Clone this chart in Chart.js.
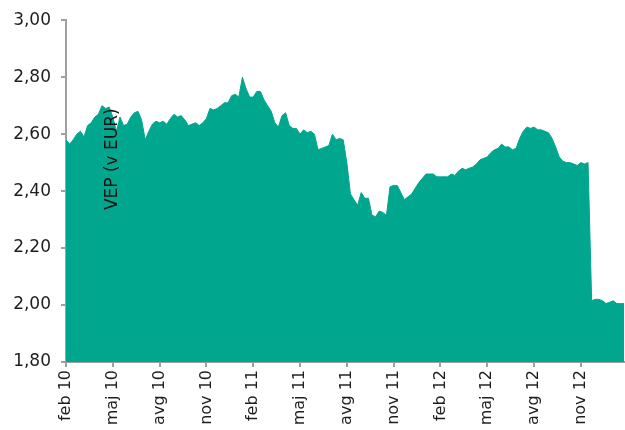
<!DOCTYPE html>
<html>
<head>
<meta charset="utf-8">
<script src="https://cdn.jsdelivr.net/npm/chart.js@4/dist/chart.umd.min.js"></script>
<style>
  html, body { margin: 0; padding: 0; background: #fff; }
  #wrap { width: 625px; height: 430px; }
</style>
</head>
<body>
<div id="wrap"><canvas id="vep"></canvas></div>
<script>
// month labels, one every 3 months starting feb 2010
const tickLabels = ['feb 10', 'maj 10', 'avg 10', 'nov 10', 'feb 11', 'maj 11',
  'avg 11', 'nov 11', 'feb 12', 'maj 12', 'avg 12', 'nov 12'];
const tickMonths = [0, 3, 6, 9, 12, 15, 18, 21, 24, 27, 30, 33];

// weekly VEP values (EUR)
const vep = [
  2.58, 2.565, 2.58, 2.60, 2.61, 2.59, 2.63, 2.64, 2.66, 2.67,
  2.70, 2.69, 2.695, 2.66, 2.61, 2.66, 2.63, 2.635, 2.66, 2.675,
  2.68, 2.65, 2.58, 2.61, 2.635, 2.645, 2.64, 2.645, 2.635, 2.655,
  2.67, 2.66, 2.665, 2.65, 2.63, 2.635, 2.64, 2.63, 2.64, 2.655,
  2.69, 2.685, 2.69, 2.70, 2.71, 2.71, 2.735, 2.74, 2.73, 2.80,
  2.76, 2.73, 2.73, 2.75, 2.75, 2.72, 2.70, 2.68, 2.64, 2.625,
  2.665, 2.675, 2.63, 2.62, 2.62, 2.60, 2.615, 2.605, 2.61, 2.60,
  2.545, 2.55, 2.555, 2.56, 2.60, 2.58, 2.585, 2.58, 2.50, 2.39,
  2.37, 2.35, 2.395, 2.375, 2.375, 2.315, 2.31, 2.33, 2.325, 2.315,
  2.415, 2.42, 2.42, 2.395, 2.37, 2.38, 2.39, 2.41, 2.43, 2.445,
  2.46, 2.46, 2.46, 2.45, 2.45, 2.45, 2.45, 2.46, 2.455, 2.47,
  2.48, 2.475, 2.48, 2.485, 2.495, 2.51, 2.515, 2.52, 2.535, 2.545,
  2.55, 2.565, 2.555, 2.555, 2.545, 2.55, 2.585, 2.61, 2.625, 2.62,
  2.625, 2.615, 2.615, 2.61, 2.605, 2.585, 2.555, 2.52, 2.505, 2.50,
  2.50, 2.495, 2.49, 2.50, 2.495, 2.50, 2.015, 2.02, 2.02, 2.015,
  2.005, 2.01, 2.015, 2.005, 2.005, 2.005
];

const points = vep.map((v, i) => ({ x: i * 12 / 52, y: v }));

const axisGrey = '#a0a0a0';
const textCol = '#1e1e1e';

// the y title sits inside the plot, like in the original
const innerTitle = {
  id: 'innerTitle',
  afterDatasetsDraw(chart) {
    const { ctx, chartArea } = chart;
    ctx.save();
    ctx.translate(chartArea.left + 47, chartArea.top + 139);
    ctx.rotate(-Math.PI / 2);
    ctx.font = '17px "DejaVu Sans"';
    ctx.fillStyle = '#111';
    ctx.textAlign = 'center';
    ctx.textBaseline = 'middle';
    ctx.fillText('VEP (v EUR)', 0, 0);
    ctx.restore();
  }
};

new Chart('vep', {
  type: 'line',
  data: {
    datasets: [{
      data: points,
      borderColor: '#00a78e',
      backgroundColor: '#00a78e',
      borderWidth: 1,
      pointRadius: 0,
      tension: 0,
      fill: 'start'
    }]
  },
  options: {
    responsive: true,
    maintainAspectRatio: false,
    animation: false,
    layout: { padding: { top: 20, right: 0, left: 0, bottom: 0 } },
    plugins: { legend: { display: false }, tooltip: { enabled: false } },
    scales: {
      x: {
        type: 'linear',
        min: 0,
        max: 35.83,
        afterBuildTicks: s => { s.ticks = tickMonths.map(v => ({ value: v })); },
        afterFit: s => { s.height = 68; },
        border: { display: true, color: axisGrey, width: 2 },
        grid: { drawOnChartArea: false, drawTicks: true, tickLength: 5, color: axisGrey, lineWidth: 2 },
        ticks: {
          minRotation: 90,
          maxRotation: 90,
          padding: 3,
          color: textCol,
          font: { family: 'DejaVu Sans', size: 16 },
          callback: v => tickLabels[tickMonths.indexOf(v)]
        }
      },
      y: {
        min: 1.8,
        max: 3.0,
        afterFit: s => { s.width = 66; },
        border: { display: true, color: axisGrey, width: 2 },
        grid: { drawOnChartArea: false, drawTicks: true, tickLength: 5, color: axisGrey, lineWidth: 2 },
        ticks: {
          stepSize: 0.2,
          padding: 10,
          color: textCol,
          font: { family: 'DejaVu Sans', size: 17 },
          callback: v => v.toFixed(2).replace('.', ',')
        }
      }
    }
  },
  plugins: [innerTitle]
});
</script>
</body>
</html>
